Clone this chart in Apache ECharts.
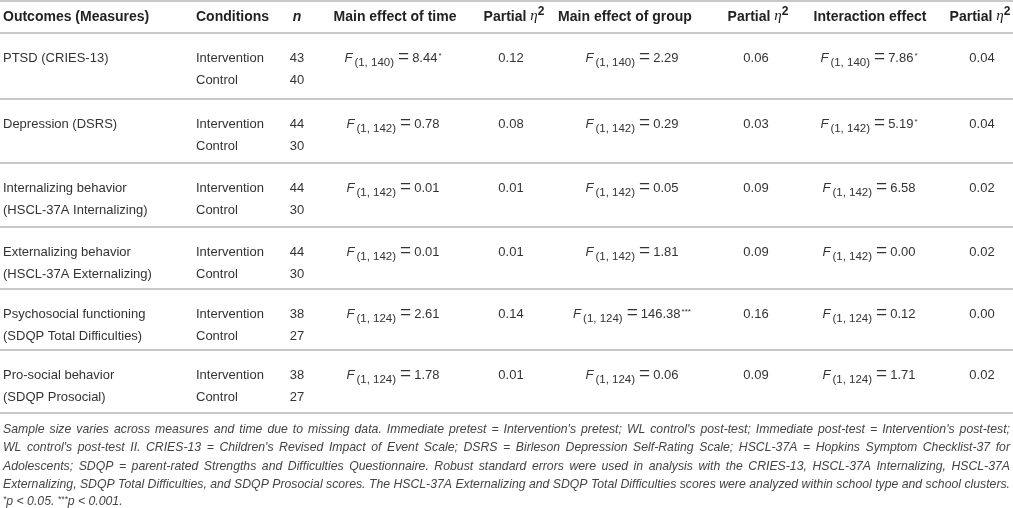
<!DOCTYPE html>
<html>
<head>
<meta charset="utf-8">
<script src="https://cdn.jsdelivr.net/npm/echarts@6/dist/echarts.min.js"></script>
<style>
  html, body { margin: 0; padding: 0; background: #fff; }
  #table { width: 1013px; height: 508px; }
</style>
</head>
<body>
<div id="table"></div>
<script>
// table content
const headers = ['Outcomes (Measures)', 'Conditions', 'n', 'Main effect of time', 'Partial eta',
  'Main effect of group', 'Partial eta', 'Interaction effect', 'Partial eta'];
const outcomeNames = ['PTSD (CRIES-13)', 'Depression (DSRS)', 'Internalizing behavior',
  'Externalizing behavior', 'Psychosocial functioning', 'Pro-social behavior'];
const outcomeMeasures = ['', '', '(HSCL-37A Internalizing)', '(HSCL-37A Externalizing)',
  '(SDQP Total Difficulties)', '(SDQP Prosocial)'];
const conditions = ['Intervention', 'Control'];
const nIntervention = [43, 44, 44, 44, 38, 38];
const nControl = [40, 30, 30, 30, 27, 27];
const degrees = ['1, 140', '1, 142', '1, 142', '1, 142', '1, 124', '1, 124'];
const fTime = [8.44, 0.78, 0.01, 0.01, 2.61, 1.78];
const sigTime = ['*', '', '', '', '', ''];
const etaTime = [0.12, 0.08, 0.01, 0.01, 0.14, 0.01];
const fGroup = [2.29, 0.29, 0.05, 1.81, 146.38, 0.06];
const sigGroup = ['', '', '', '', '***', ''];
const etaGroup = [0.06, 0.03, 0.09, 0.09, 0.16, 0.09];
const fInteraction = [7.86, 5.19, 6.58, 0.00, 0.12, 1.71];
const sigInteraction = ['*', '*', '', '', '', ''];
const etaInteraction = [0.04, 0.04, 0.02, 0.02, 0.00, 0.02];
const footnote = [
  "Sample size varies across measures and time due to missing data. Immediate pretest = Intervention's pretest; WL control's post-test; Immediate post-test = Intervention's post-test;",
  "WL control's post-test II. CRIES-13 = Children's Revised Impact of Event Scale; DSRS = Birleson Depression Self-Rating Scale; HSCL-37A = Hopkins Symptom Checklist-37 for",
  "Adolescents; SDQP = parent-rated Strengths and Difficulties Questionnaire. Robust standard errors were used in analysis with the CRIES-13, HSCL-37A Internalizing, HSCL-37A",
  "Externalizing, SDQP Total Difficulties, and SDQP Prosocial scores. The HSCL-37A Externalizing and SDQP Total Difficulties scores were analyzed within school type and school clusters.",
  "{sp|*}p < 0.05. {sp|***}p < 0.001."
];

// layout
const W = 1013, H = 508;
const headX = [3, 196, 297, 395, 514, 625, 758, 870, 980];
const headAlign = ['left', 'left', 'center', 'center', 'center', 'center', 'center', 'center', 'center'];
const colX = [3, 196, 297, 393, 511, 632, 756, 869, 982];
const rules = [1, 33, 99, 163, 227, 289, 350, 413];
const headerY = 17, row1Off = 25, row2Off = 47.5;
const footY = 429.5, footStep = 18.3, footWidth = 1007;
const FONT = '"Liberation Sans", Arial, sans-serif';

// footnote size: the largest that lets every paragraph line fit the table width
const measureCtx = document.createElement('canvas').getContext('2d');
measureCtx.font = 'italic 100px ' + FONT;
const footSize = Math.min(12.5, ...footnote.slice(0, 4).map(l => footWidth * 100 / measureCtx.measureText(l).width));

const tok = (size, extra) => Object.assign({ fontFamily: FONT, fontSize: size, fill: '#333', verticalAlign: 'bottom' }, extra);
const RICH = {
  fi: tok(13, { fontStyle: 'italic', padding: [0, 1, 4, 0] }),
  fs: tok(11.5, { padding: [0, 0, 0, 1] }),
  fe: tok(19, { padding: [0, 3, 2, 4] }),
  fv: tok(13, { padding: [0, 0, 4, 0] }),
  fp: tok(8, { padding: [0, 0, 9, 1] }),
  hb: tok(14, { fontWeight: 'bold', fill: '#222', padding: [0, 0, 4, 0] }),
  he: tok(15, { fontFamily: '"Liberation Serif", serif', fontStyle: 'italic', fill: '#222', padding: [0, 0, 4, 0] }),
  ht: tok(12, { fontWeight: 'bold', fill: '#222', padding: [0, 0, 10, 0] }),
  hi: tok(14, { fontWeight: 'bold', fontStyle: 'italic', fill: '#222', padding: [0, 0, 4, 0] }),
  sp: tok(footSize * 0.7, { fontStyle: 'italic', fill: '#444', padding: [0, 0, 7, 0] }),
  ft: tok(footSize, { fontStyle: 'italic', fill: '#444', padding: [0, 0, 3, 0] })
};

function headText(h) {
  if (h === 'n') return '{hi|n}';
  if (h === 'Partial eta') return '{hb|Partial }{he|η}{ht|2}';
  return '{hb|' + h + '}';
}
function fText(df, v, sig) {
  return '{fi|F}{fs|(' + df + ')}{fe|=}{fv|' + v.toFixed(2) + '}' + (sig ? '{fp|' + sig + '}' : '');
}

// dy: vertical nudge so the main line of a rich block sits on the row centre
const cells = [];
headers.forEach((h, i) => cells.push({ x: headX[i], y: headerY, text: headText(h), align: headAlign[i], dy: h === 'Partial eta' ? 0 : 2 }));
outcomeNames.forEach((name, r) => {
  const y1 = rules[r + 1] + row1Off, y2 = rules[r + 1] + row2Off;
  cells.push({ x: colX[0], y: y1, text: name, align: 'left' });
  if (outcomeMeasures[r]) cells.push({ x: colX[0], y: y2, text: outcomeMeasures[r], align: 'left' });
  cells.push({ x: colX[1], y: y1, text: conditions[0], align: 'left' });
  cells.push({ x: colX[1], y: y2, text: conditions[1], align: 'left' });
  cells.push({ x: colX[2], y: y1, text: String(nIntervention[r]), align: 'center' });
  cells.push({ x: colX[2], y: y2, text: String(nControl[r]), align: 'center' });
  cells.push({ x: colX[3], y: y1, text: fText(degrees[r], fTime[r], sigTime[r]), align: 'center' });
  cells.push({ x: colX[4], y: y1, text: etaTime[r].toFixed(2), align: 'center' });
  cells.push({ x: colX[5], y: y1, text: fText(degrees[r], fGroup[r], sigGroup[r]), align: 'center' });
  cells.push({ x: colX[6], y: y1, text: etaGroup[r].toFixed(2), align: 'center' });
  cells.push({ x: colX[7], y: y1, text: fText(degrees[r], fInteraction[r], sigInteraction[r]), align: 'center' });
  cells.push({ x: colX[8], y: y1, text: etaInteraction[r].toFixed(2), align: 'center' });
});

function renderCell(params, api) {
  const c = cells[params.dataIndex];
  const p = api.coord([api.value(0), api.value(1)]);
  return {
    type: 'text', x: p[0], y: p[1] + (c.dy || 0),
    style: {
      text: c.text, rich: RICH, align: c.align, verticalAlign: 'middle',
      fontFamily: FONT, fontSize: 13, fill: '#333'
    }
  };
}

function renderRule(params, api) {
  const a = api.coord([0, api.value(1)]);
  const b = api.coord([W, api.value(1)]);
  return { type: 'line', shape: { x1: a[0], y1: a[1], x2: b[0], y2: b[1] }, style: { stroke: '#c8c8c8', lineWidth: 2 } };
}

function renderFoot(params, api) {
  const i = params.dataIndex;
  const p = api.coord([api.value(0), api.value(1)]);
  const line = footnote[i];
  const base = { fontFamily: FONT, fontSize: footSize, fontStyle: 'italic', fill: '#444', verticalAlign: 'middle' };
  if (i >= footnote.length - 1) {
    return { type: 'text', x: p[0], y: p[1], style: Object.assign({ text: '{ft|' + line.replace(/\{sp\|([^}]*)\}/g, '}{sp|$1}{ft|') + '}', rich: RICH, align: 'left' }, base) };
  }
  // justify the paragraph lines across the table width
  measureCtx.font = 'italic ' + footSize + 'px ' + FONT;
  const words = line.split(' ');
  const widths = words.map(w => measureCtx.measureText(w).width);
  const total = widths.reduce((s, w) => s + w, 0);
  const gap = (footWidth - total) / (words.length - 1);
  let x = p[0];
  const children = words.map((w, k) => {
    const el = { type: 'text', x: x, y: p[1], style: Object.assign({ text: w, align: 'left' }, base) };
    x += widths[k] + gap;
    return el;
  });
  return { type: 'group', children: children };
}

const chart = echarts.init(document.getElementById('table'), null, { renderer: 'canvas' });
chart.setOption({
  animation: false,
  backgroundColor: '#fff',
  grid: { left: 0, right: 0, top: 0, bottom: 0 },
  xAxis: { type: 'value', min: 0, max: W, show: false },
  yAxis: { type: 'value', min: 0, max: H, inverse: true, show: false },
  series: [
    { type: 'custom', silent: true, clip: false, renderItem: renderRule, data: rules.map(y => [0, y]) },
    { type: 'custom', silent: true, clip: false, renderItem: renderCell, data: cells.map(c => [c.x, c.y]) },
    { type: 'custom', silent: true, clip: false, renderItem: renderFoot, data: footnote.map((t, i) => [3, footY + i * footStep]) }
  ]
});
</script>
</body>
</html>
